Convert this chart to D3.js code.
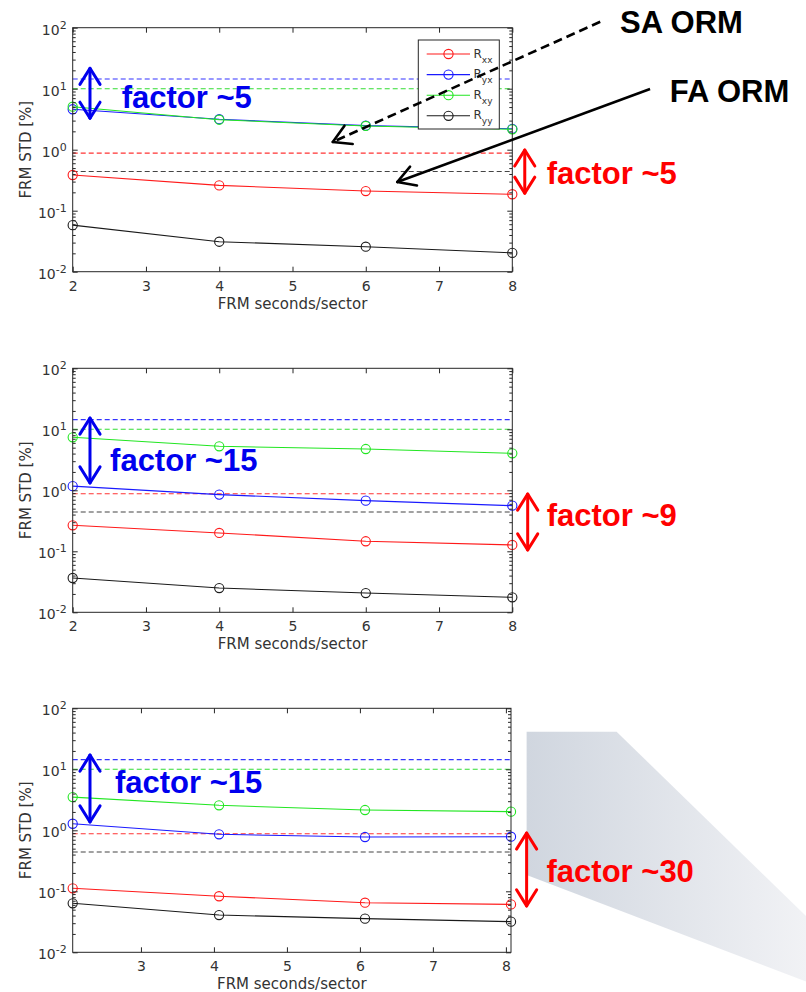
<!DOCTYPE html>
<html>
<head>
<meta charset="utf-8">
<script src="https://cdn.jsdelivr.net/npm/d3@7"></script>
<style>
  body { margin: 0; background: #ffffff; }
  svg { display: block; }
</style>
</head>
<body>
<svg id="chart" width="806" height="992"></svg>
<script>
// FRM standard deviation vs. frame length, three measurement sets

const seriesKeys = ["Rxx", "Ryx", "Rxy", "Ryy"];
const seriesSubs = ["xx", "yx", "xy", "yy"];

// dashed reference levels, same order as seriesKeys
const refLevels = [0.88, 14.4, 10, 0.44];

// set 1
const secondsTop = [2, 4, 6, 8];
const rxxTop = [0.385, 0.26, 0.21, 0.186];
const ryxTop = [4.6, 3.16, 2.48, 2.2];
const rxyTop = [5.07, 3.1, 2.45, 2.16];
const ryyTop = [0.058, 0.031, 0.0257, 0.0204];

// set 2
const secondsMid = [2, 4, 6, 8];
const rxxMid = [0.267, 0.2, 0.146, 0.127];
const ryxMid = [1.17, 0.85, 0.676, 0.56];
const rxyMid = [7.4, 5.26, 4.75, 4.04];
const ryyMid = [0.0365, 0.025, 0.0207, 0.0176];

// set 3
const secondsBot = [2.065, 4.07, 6.07, 8.07];
const rxxBot = [0.112, 0.083, 0.065, 0.061];
const ryxBot = [1.28, 0.86, 0.776, 0.785];
const rxyBot = [3.5, 2.57, 2.15, 2.02];
const ryyBot = [0.0636, 0.0408, 0.0356, 0.0318];

// axis ticks
const xTicksFull = [2, 3, 4, 5, 6, 7, 8];
const xTicksBot = [3, 4, 5, 6, 7, 8];
const yDecades = [1e-2, 1e-1, 1, 10, 100];
const yExponents = ["-2", "-1", "0", "1", "2"];
const xAxisTitle = "FRM seconds/sector";
const yAxisTitle = "FRM STD [%]";

// ---- styling / layout ----
const colors = { Rxx: "#ff1a1a", Ryx: "#1a1aff", Rxy: "#22e622", Ryy: "#1a1a1a" };
const refColors = { Rxx: "#ff3333", Ryx: "#3333ff", Rxy: "#33dd33", Ryy: "#444444" };
const axisColor = "#262626";
const textColor = "#333333";
const tickFont = "'DejaVu Sans', sans-serif";
const bigFont = "'Liberation Sans', Arial, sans-serif";
const annBlue = "#0000ee";
const annRed = "#ff0000";
const plotLeft = 72.7;

const panels = [
  { x: secondsTop, series: [rxxTop, ryxTop, rxyTop, ryyTop], xDomain: [2, 8],
    xTicks: xTicksFull, top: 27.7, bottom: 271.7, right: 512.3, legend: true },
  { x: secondsMid, series: [rxxMid, ryxMid, rxyMid, ryyMid], xDomain: [2, 8],
    xTicks: xTicksFull, top: 368.3, bottom: 612.3, right: 512.3, legend: false },
  { x: secondsBot, series: [rxxBot, ryxBot, rxyBot, ryyBot], xDomain: [2.065, 8.07],
    xTicks: xTicksBot, top: 708.3, bottom: 952.3, right: 511, legend: false }
];

// "factor" call-outs, placed in each panel's data space
const factorNotes = [
  { blue: { x: 2.236, hi: 21.6, lo: 3.27, tx: 2.668, ty: 4.83, label: "factor ~5" },
    red:  { x: 8.17, hi: 0.99, lo: 0.193, tx: 8.47, ty: 0.274, label: "factor ~5" } },
  { blue: { x: 2.236, hi: 15.3, lo: 1.32, tx: 2.51, ty: 2.09, label: "factor ~15" },
    red:  { x: 8.21, hi: 0.869, lo: 0.105, tx: 8.47, ty: 0.263, label: "factor ~9" } },
  { blue: { x: 2.302, hi: 17.1, lo: 1.37, tx: 2.644, ty: 4.13, label: "factor ~15" },
    red:  { x: 8.284, hi: 0.904, lo: 0.0577, tx: 8.557, ty: 0.1436, label: "factor ~30" } }
];

// pointer arrows for the first panel
const pointers = [
  { from: [9.2, 125], to: [5.55, 1.34], dashed: true, label: "SA ORM", tx: 9.47, ty: 81.8 },
  { from: [9.88, 9.9], to: [6.43, 0.295], dashed: false, label: "FA ORM", tx: 10.15, ty: 6.12 }
];

// zoom call-out wedge next to the third panel
const wedge = [[8.284, 41.3], [9.517, 41.3], [12.12, 0.0384], [12.12, 0.0033], [8.284, 0.185]];

const svg = d3.select("#chart");

const defs = svg.append("defs");
const grad = defs.append("linearGradient").attr("id", "wedgeFill")
  .attr("x1", "0%").attr("x2", "100%").attr("y1", "0%").attr("y2", "0%");
grad.append("stop").attr("offset", "0%").attr("stop-color", "#d0d6df");
grad.append("stop").attr("offset", "100%").attr("stop-color", "#f1f2f5");

function openHead(g, tip, back, color, width, len, deg) {
  const ang = Math.atan2(back[1] - tip[1], back[0] - tip[0]);
  const a = deg * Math.PI / 180;
  [ang - a, ang + a].forEach(t => {
    g.append("line")
      .attr("x1", tip[0]).attr("y1", tip[1])
      .attr("x2", tip[0] + len * Math.cos(t)).attr("y2", tip[1] + len * Math.sin(t))
      .attr("stroke", color).attr("stroke-width", width).attr("stroke-linecap", "round");
  });
}

function doubleArrow(g, xp, y1, y2, color) {
  g.append("line").attr("x1", xp).attr("x2", xp).attr("y1", y1).attr("y2", y2)
    .attr("stroke", color).attr("stroke-width", 3);
  openHead(g, [xp, y1], [xp, y2], color, 3, 19, 32);
  openHead(g, [xp, y2], [xp, y1], color, 3, 19, 32);
}

panels.forEach((p, pi) => {
  const x = d3.scaleLinear().domain(p.xDomain).range([plotLeft, p.right]);
  const y = d3.scaleLog().domain([1e-2, 1e2]).range([p.bottom, p.top]);
  const g = svg.append("g");

  if (pi === 2) {
    g.append("polygon")
      .attr("points", wedge.map(d => [x(d[0]), y(d[1])].join(",")).join(" "))
      .attr("fill", "url(#wedgeFill)");
  }

  // dashed reference levels
  refLevels.forEach((v, i) => {
    g.append("line")
      .attr("x1", plotLeft).attr("x2", p.right)
      .attr("y1", y(v)).attr("y2", y(v))
      .attr("stroke", refColors[seriesKeys[i]]).attr("stroke-width", 1.1)
      .attr("stroke-dasharray", "5,3");
  });

  // series lines and circle markers
  const line = d3.line().x(d => x(d[0])).y(d => y(d[1]));
  p.series.forEach((vals, i) => {
    const pts = p.x.map((s, j) => [s, vals[j]]);
    const c = colors[seriesKeys[i]];
    g.append("path").attr("d", line(pts)).attr("fill", "none")
      .attr("stroke", c).attr("stroke-width", 1.1);
    g.selectAll(null).data(pts).enter().append("circle")
      .attr("cx", d => x(d[0])).attr("cy", d => y(d[1])).attr("r", 4.6)
      .attr("fill", "none").attr("stroke", c).attr("stroke-width", 1.1);
  });

  // minor log ticks
  const minor = [];
  for (let e = -2; e < 2; e++) for (let m = 2; m <= 9; m++) minor.push(m * Math.pow(10, e));

  const styleAxis = sel => {
    sel.select(".domain").remove();
    sel.selectAll("line").attr("stroke", axisColor).attr("stroke-width", 1);
    sel.selectAll("text").attr("fill", textColor).attr("font-family", tickFont).attr("font-size", 14);
  };

  g.append("g").attr("transform", `translate(0,${p.bottom})`)
    .call(d3.axisBottom(x).tickValues(p.xTicks).tickFormat(d3.format("d"))
      .tickSize(-5).tickPadding(9)).call(styleAxis);
  g.append("g").attr("transform", `translate(0,${p.top})`)
    .call(d3.axisTop(x).tickValues(p.xTicks).tickFormat("").tickSize(-5)).call(styleAxis);
  g.append("g").attr("transform", `translate(${plotLeft},0)`)
    .call(d3.axisLeft(y).tickValues(yDecades).tickFormat("").tickSize(-5)).call(styleAxis);
  g.append("g").attr("transform", `translate(${plotLeft},0)`)
    .call(d3.axisLeft(y).tickValues(minor).tickFormat("").tickSize(-3)).call(styleAxis);
  g.append("g").attr("transform", `translate(${p.right},0)`)
    .call(d3.axisRight(y).tickValues(yDecades).tickFormat("").tickSize(-5)).call(styleAxis);
  g.append("g").attr("transform", `translate(${p.right},0)`)
    .call(d3.axisRight(y).tickValues(minor).tickFormat("").tickSize(-3)).call(styleAxis);

  // power-of-ten labels
  yDecades.forEach((v, i) => {
    const t = g.append("text").attr("x", plotLeft - 6).attr("y", y(v) + 7)
      .attr("text-anchor", "end").attr("fill", textColor)
      .attr("font-family", tickFont).attr("font-size", 14);
    t.append("tspan").text("10");
    t.append("tspan").attr("dy", -6).attr("font-size", 11).text(yExponents[i]);
  });

  // plot frame
  g.append("rect").attr("x", plotLeft).attr("y", p.top)
    .attr("width", p.right - plotLeft).attr("height", p.bottom - p.top)
    .attr("fill", "none").attr("stroke", axisColor).attr("stroke-width", 1);

  // axis titles
  g.append("text").attr("x", (plotLeft + p.right) / 2).attr("y", p.bottom + 37)
    .attr("text-anchor", "middle").attr("fill", textColor)
    .attr("font-family", tickFont).attr("font-size", 15).text(xAxisTitle);
  g.append("text")
    .attr("transform", `translate(31,${(p.top + p.bottom) / 2}) rotate(-90)`)
    .attr("text-anchor", "middle").attr("fill", textColor)
    .attr("font-family", tickFont).attr("font-size", 15).text(yAxisTitle);

  // legend
  if (p.legend) {
    const lg = g.append("g");
    lg.append("rect").attr("x", 418.3).attr("y", 40).attr("width", 81).attr("height", 89)
      .attr("fill", "#ffffff").attr("stroke", axisColor).attr("stroke-width", 1);
    seriesKeys.forEach((k, i) => {
      const ry = 54 + i * 20.6;
      lg.append("line").attr("x1", 426.7).attr("x2", 470).attr("y1", ry).attr("y2", ry)
        .attr("stroke", colors[k]).attr("stroke-width", 1.1);
      lg.append("circle").attr("cx", 448.5).attr("cy", ry).attr("r", 4.6)
        .attr("fill", "none").attr("stroke", colors[k]).attr("stroke-width", 1.1);
      const t = lg.append("text").attr("x", 473.5).attr("y", ry + 3.5)
        .attr("fill", textColor).attr("font-family", tickFont).attr("font-size", 12);
      t.append("tspan").text("R");
      t.append("tspan").attr("dy", 5).attr("font-size", 9).text(seriesSubs[i]);
    });
  }

  // factor call-outs
  const n = factorNotes[pi];
  [["blue", annBlue], ["red", annRed]].forEach(([key, col]) => {
    const a = n[key];
    doubleArrow(g, x(a.x), y(a.hi), y(a.lo), col);
    g.append("text").attr("x", x(a.tx)).attr("y", y(a.ty))
      .attr("fill", col).attr("font-family", bigFont).attr("font-weight", "bold")
      .attr("font-size", 31).text(a.label);
  });

  // pointer arrows
  if (pi === 0) {
    pointers.forEach(pt => {
      const f = [x(pt.from[0]), y(pt.from[1])];
      const t = [x(pt.to[0]), y(pt.to[1])];
      g.append("line").attr("x1", f[0]).attr("y1", f[1]).attr("x2", t[0]).attr("y2", t[1])
        .attr("stroke", "#000").attr("stroke-width", 2.6)
        .attr("stroke-dasharray", pt.dashed ? "9,5" : null);
      openHead(g, t, f, "#000", 2.6, 20, 30);
      g.append("text").attr("x", x(pt.tx)).attr("y", y(pt.ty))
        .attr("fill", "#000").attr("font-family", bigFont).attr("font-weight", "bold")
        .attr("font-size", 31).text(pt.label);
    });
  }
});
</script>
</body>
</html>
